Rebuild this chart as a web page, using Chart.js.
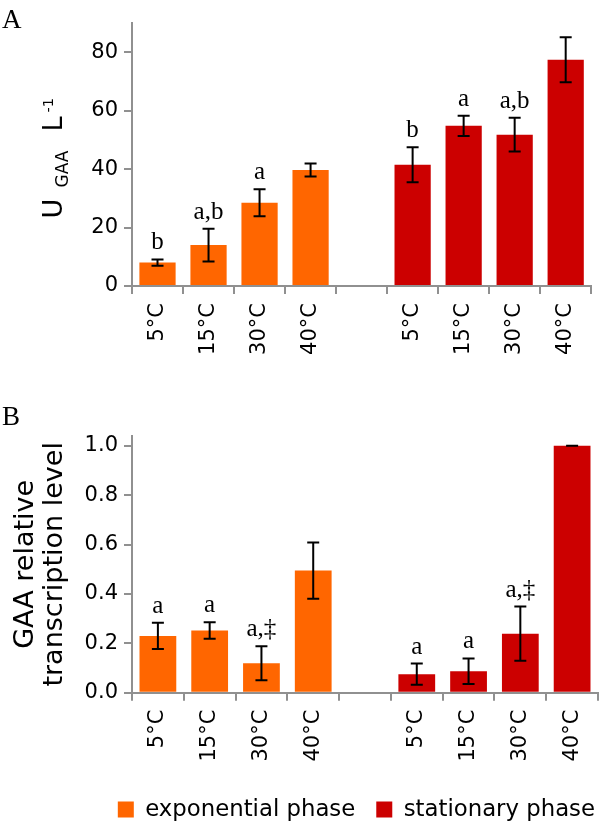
<!DOCTYPE html>
<html><head><meta charset="utf-8">
<script src="https://cdn.jsdelivr.net/npm/chart.js@4/dist/chart.umd.min.js"></script>
<style>
html,body{margin:0;padding:0;background:#fff;overflow:hidden;width:600px;height:825px;position:relative;}
#wa{position:absolute;left:0;top:0;width:600px;height:370px;}
#wb{position:absolute;left:0;top:380px;width:616px;height:451px;}
</style></head><body>
<div id="wa"><canvas id="ca"></canvas></div>
<div id="wb"><canvas id="cb"></canvas></div>
<script>
const categories = ['5°C','15°C','30°C','40°C','','5°C','15°C','30°C','40°C'];
const seriesNames = ['exponential phase','stationary phase'];

const activityExp  = [8.0, 14.0, 28.5, 39.7, null, null, null, null, null];
const activityStat = [null, null, null, null, null, 41.5, 54.8, 51.8, 77.4];
const activityErr  = [1.1, 5.6, 4.6, 2.2, null, 6.0, 3.5, 5.8, 7.7];
const activityLetters = ['b', 'a,b', 'a', '', '', 'b', 'a', 'a,b', ''];
const activityTicks = [0, 20, 40, 60, 80];

const transcriptExp  = [0.230, 0.252, 0.119, 0.495, null, null, null, null, null];
const transcriptStat = [null, null, null, null, null, 0.075, 0.087, 0.239, 1.0];
const transcriptErr  = [0.053, 0.033, 0.069, 0.114, null, 0.043, 0.052, 0.110, 0.0];
const transcriptLetters = ['a', 'a', 'a,‡', '', '', 'a', 'a', 'a,‡', ''];
const transcriptTicks = [0, 0.2, 0.4, 0.6, 0.8, 1.0];

const ORANGE = '#FF6600', RED = '#CC0000', AXIS = '#909090';
const SANS = "'DejaVu Sans'";

function errorBars(id, errs, letters) {
  return {
    id,
    afterDatasetsDraw(chart) {
      const ctx = chart.ctx, y = chart.scales.y;
      ctx.save();
      chart.data.datasets.forEach((ds, d) => {
        const meta = chart.getDatasetMeta(d);
        ds.data.forEach((v, i) => {
          if (v == null || errs[i] == null) return;
          const x = meta.data[i].x;
          const top = y.getPixelForValue(v + errs[i]);
          const bot = y.getPixelForValue(v - errs[i]);
          ctx.strokeStyle = '#000'; ctx.lineWidth = 2;
          ctx.beginPath();
          ctx.moveTo(x, top); ctx.lineTo(x, bot);
          ctx.moveTo(x - 6, top); ctx.lineTo(x + 6, top);
          ctx.moveTo(x - 6, bot); ctx.lineTo(x + 6, bot);
          ctx.stroke();
          if (letters[i]) {
            ctx.fillStyle = '#000';
            ctx.font = '25px "Liberation Serif"';
            ctx.textAlign = 'center'; ctx.textBaseline = 'alphabetic';
            ctx.fillText(letters[i], x, top - 10);
          }
        });
      });
      ctx.restore();
    }
  };
}

const titleA = {
  id: 'titleA',
  afterDraw(chart) {
    const ctx = chart.ctx, ca = chart.chartArea;
    const c = (ca.top + ca.bottom) / 2;
    ctx.save();
    ctx.fillStyle = '#000';
    ctx.textBaseline = 'alphabetic';
    ctx.font = '27px "Liberation Serif"';
    ctx.textAlign = 'left';
    ctx.fillText('A', 2, 28);
    ctx.translate(61.7, c);
    ctx.rotate(-Math.PI / 2);
    ctx.font = '27px ' + SANS;
    ctx.fillText('U', -64, 0);
    ctx.font = '17px ' + SANS;
    ctx.fillText('GAA', -33, 6.6);
    ctx.font = '27px ' + SANS;
    ctx.fillText('L', 23, 0);
    ctx.font = '14.5px ' + SANS;
    ctx.fillText('-1', 42, -8.4);
    ctx.restore();
  }
};

const titleB = {
  id: 'titleB',
  afterDraw(chart) {
    const ctx = chart.ctx, ca = chart.chartArea;
    const c = (ca.top + ca.bottom) / 2;
    ctx.save();
    ctx.fillStyle = '#000';
    ctx.textBaseline = 'alphabetic';
    ctx.font = '27px "Liberation Serif"';
    ctx.textAlign = 'left';
    ctx.fillText('B', 2, 45);
    ctx.font = '27px ' + SANS;
    ctx.textAlign = 'center';
    ctx.save();
    ctx.translate(33, c); ctx.rotate(-Math.PI / 2);
    ctx.fillText('GAA relative', 0, 0);
    ctx.restore();
    ctx.save();
    ctx.translate(61.5, c); ctx.rotate(-Math.PI / 2);
    ctx.fillText('transcription level', 0, 0);
    ctx.restore();
    ctx.restore();
  }
};

function xAxis(h) {
  return {
    grid: { offset: true, drawOnChartArea: false, drawTicks: true, tickLength: 8, color: AXIS, lineWidth: 2 },
    border: { color: AXIS, width: 2 },
    ticks: { color: '#000', font: { family: SANS, size: 21 }, maxRotation: 90, minRotation: 90, padding: 9, autoSkip: false },
    afterFit(s) { s.height = h; }
  };
}
function yAxis(max, tickVals, fmt) {
  return {
    min: 0, max,
    afterBuildTicks(s) { s.ticks = tickVals.map(v => ({ value: v })); },
    grid: { drawOnChartArea: false, drawTicks: true, tickLength: 8, color: AXIS, lineWidth: 2 },
    border: { color: AXIS, width: 2 },
    ticks: { color: '#000', font: { family: SANS, size: 21 }, padding: 6, callback: fmt },
    afterFit(s) { s.width = 132; }
  };
}
function datasets(a, b) {
  return [
    { label: seriesNames[0], data: a, backgroundColor: ORANGE, borderWidth: 0, grouped: false, barPercentage: 0.71, categoryPercentage: 1 },
    { label: seriesNames[1], data: b, backgroundColor: RED, borderWidth: 0, grouped: false, barPercentage: 0.71, categoryPercentage: 1 }
  ];
}

new Chart(document.getElementById('ca'), {
  type: 'bar',
  data: { labels: categories, datasets: datasets(activityExp, activityStat) },
  options: {
    responsive: true, maintainAspectRatio: false, animation: false,
    layout: { padding: { top: 23, right: 2, left: 0, bottom: 0 } },
    plugins: { legend: { display: false }, tooltip: { enabled: false } },
    scales: {
      x: xAxis(84),
      y: yAxis(90, activityTicks, v => String(v))
    }
  },
  plugins: [errorBars('errA', activityErr, activityLetters), titleA]
});

new Chart(document.getElementById('cb'), {
  type: 'bar',
  data: { labels: categories, datasets: datasets(transcriptExp, transcriptStat) },
  options: {
    responsive: true, maintainAspectRatio: false, animation: false,
    layout: { padding: { top: 56, right: 0, left: 0, bottom: 0 } },
    plugins: {
      tooltip: { enabled: false },
      legend: {
        display: true, position: 'bottom', align: 'end',
        labels: { boxWidth: 16, boxHeight: 16, padding: 21, color: '#000', font: { family: SANS, size: 22.8 } }
      }
    },
    scales: {
      x: xAxis(84.5),
      y: yAxis(1.04, transcriptTicks, v => Number(v).toFixed(1)),
      pad: {
        type: 'linear', position: 'right', display: true,
        grid: { display: false }, border: { display: false }, ticks: { display: false },
        afterFit(s) { s.width = 18; }
      }
    }
  },
  plugins: [errorBars('errB', transcriptErr, transcriptLetters), titleB]
});
</script>
</body></html>
